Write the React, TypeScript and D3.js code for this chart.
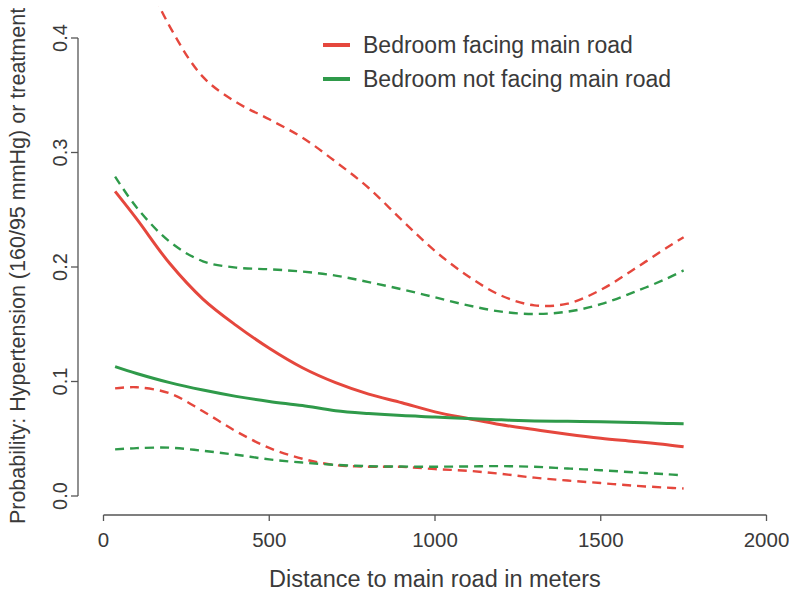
import { useEffect, useRef } from 'react';
import * as d3 from 'd3';

// distance to main road (m)
const distances = [35, 100, 200, 300, 400, 500, 600, 700, 800, 900, 1000, 1100, 1200, 1300, 1400, 1500, 1600, 1700, 1750];

// bedroom facing main road
const facingFit = [0.266, 0.242, 0.203, 0.172, 0.149, 0.129, 0.112, 0.099, 0.089, 0.0815, 0.0735, 0.0677, 0.0622, 0.058, 0.054, 0.0505, 0.0477, 0.0448, 0.043];
const facingUpper = [0.52, 0.472, 0.41, 0.366, 0.344, 0.329, 0.313, 0.292, 0.269, 0.241, 0.214, 0.192, 0.175, 0.1665, 0.168, 0.18, 0.198, 0.217, 0.226];
const facingLower = [0.094, 0.095, 0.0896, 0.074, 0.0565, 0.042, 0.0325, 0.027, 0.0256, 0.0254, 0.0235, 0.022, 0.0193, 0.016, 0.0135, 0.0113, 0.009, 0.0073, 0.0066];

// bedroom not facing main road
const notFacingFit = [0.113, 0.107, 0.099, 0.0925, 0.087, 0.0826, 0.079, 0.0745, 0.072, 0.0702, 0.069, 0.0676, 0.0665, 0.0656, 0.0652, 0.0648, 0.0643, 0.0634, 0.063];
const notFacingUpper = [0.279, 0.252, 0.222, 0.205, 0.1995, 0.198, 0.196, 0.1925, 0.1868, 0.1805, 0.1735, 0.1665, 0.161, 0.159, 0.161, 0.1675, 0.178, 0.19, 0.197];
const notFacingLower = [0.0407, 0.0418, 0.0422, 0.0395, 0.036, 0.032, 0.0292, 0.0272, 0.026, 0.0257, 0.0256, 0.0258, 0.0261, 0.0255, 0.024, 0.0225, 0.0207, 0.019, 0.018];

const xTicks = [0, 500, 1000, 1500, 2000];
const yTicks = [0, 0.1, 0.2, 0.3, 0.4];
const legendLabels = ['Bedroom facing main road', 'Bedroom not facing main road'];

const RED = '#e5473d';
const GREEN = '#2f9a4a';
const AXIS = '#555';
const TEXT = '#3a3a3a';
const FONT = '"Liberation Sans", Arial, Helvetica, sans-serif';

export default function App() {
    const svgRef = useRef<SVGSVGElement>(null);

    useEffect(() => {
        if (!svgRef.current) return;
        document.body.style.margin = '0';

        const width = 789;
        const height = 596;

        d3.select(svgRef.current).selectAll('*').remove();
        const svg = d3.select(svgRef.current).attr('width', width).attr('height', height);

        const x = d3.scaleLinear().domain([0, 2000]).range([103.5, 766.5]);
        const y = d3.scaleLinear().domain([0, 0.4]).range([496, 38]);

        // clip to plot region
        svg.append('defs')
            .append('clipPath')
            .attr('id', 'plot-clip')
            .append('rect')
            .attr('x', 78)
            .attr('y', 6)
            .attr('width', 700)
            .attr('height', 505);

        const line = d3
            .line<number>()
            .x((d, i) => x(distances[i]))
            .y((d) => y(d))
            .curve(d3.curveCatmullRom.alpha(0.5));

        const series = [
            { values: facingUpper, color: RED, dashed: true },
            { values: facingLower, color: RED, dashed: true },
            { values: notFacingUpper, color: GREEN, dashed: true },
            { values: notFacingLower, color: GREEN, dashed: true },
            { values: facingFit, color: RED, dashed: false },
            { values: notFacingFit, color: GREEN, dashed: false },
        ];

        const plot = svg.append('g').attr('clip-path', 'url(#plot-clip)');
        series.forEach((s) => {
            plot.append('path')
                .datum(s.values)
                .attr('d', line)
                .attr('fill', 'none')
                .attr('stroke', s.color)
                .attr('stroke-width', s.dashed ? 2.4 : 3)
                .attr('stroke-dasharray', s.dashed ? '9,6' : null)
                .attr('stroke-linecap', 'butt');
        });

        // y axis
        const yAxis = svg.append('g');
        yAxis.append('line')
            .attr('x1', 78).attr('x2', 78)
            .attr('y1', y(0)).attr('y2', y(0.4))
            .attr('stroke', AXIS).attr('stroke-width', 1.3);
        yTicks.forEach((t) => {
            yAxis.append('line')
                .attr('x1', 71).attr('x2', 78)
                .attr('y1', y(t)).attr('y2', y(t))
                .attr('stroke', AXIS).attr('stroke-width', 1.3);
            yAxis.append('text')
                .attr('transform', `translate(67,${y(t)}) rotate(-90)`)
                .attr('text-anchor', 'middle')
                .attr('font-family', FONT)
                .attr('font-size', 20)
                .attr('fill', TEXT)
                .text(t.toFixed(1));
        });

        // x axis
        const xAxis = svg.append('g');
        xAxis.append('line')
            .attr('x1', x(0)).attr('x2', x(2000))
            .attr('y1', 515).attr('y2', 515)
            .attr('stroke', AXIS).attr('stroke-width', 1.3);
        xTicks.forEach((t) => {
            xAxis.append('line')
                .attr('x1', x(t)).attr('x2', x(t))
                .attr('y1', 515).attr('y2', 521)
                .attr('stroke', AXIS).attr('stroke-width', 1.3);
            xAxis.append('text')
                .attr('x', x(t))
                .attr('y', 547)
                .attr('text-anchor', 'middle')
                .attr('font-family', FONT)
                .attr('font-size', 20.5)
                .attr('fill', TEXT)
                .text(String(t));
        });

        // axis titles
        svg.append('text')
            .attr('x', 435)
            .attr('y', 587)
            .attr('text-anchor', 'middle')
            .attr('font-family', FONT)
            .attr('font-size', 23.5)
            .attr('fill', TEXT)
            .text('Distance to main road in meters');

        svg.append('text')
            .attr('transform', 'translate(25,266) rotate(-90)')
            .attr('text-anchor', 'middle')
            .attr('font-family', FONT)
            .attr('font-size', 21.5)
            .attr('fill', TEXT)
            .text('Probability: Hypertension (160/95 mmHg) or treatment');

        // legend
        const legendColors = [RED, GREEN];
        legendLabels.forEach((label, i) => {
            const ly = 45 + i * 34;
            svg.append('line')
                .attr('x1', 323).attr('x2', 350)
                .attr('y1', ly).attr('y2', ly)
                .attr('stroke', legendColors[i])
                .attr('stroke-width', 4);
            svg.append('text')
                .attr('x', 363)
                .attr('y', ly + 8)
                .attr('font-family', FONT)
                .attr('font-size', 23)
                .attr('fill', TEXT)
                .text(label);
        });
    }, []);

    return (
        <div style={{ position: 'absolute', left: 0, top: 0 }}>
            <svg ref={svgRef}></svg>
        </div>
    );
}
